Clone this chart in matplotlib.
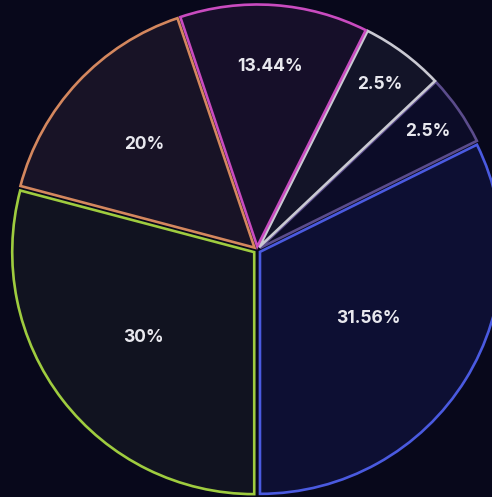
import matplotlib.pyplot as plt
import numpy as np

# slice shares as drawn, counter-clockwise from 6 o'clock
shares = [32.3, 4.75, 5.55, 12.55, 15.75, 29.1]
pct_labels = ['31.56%', '2.5%', '2.5%', '13.44%', '20%', '30%']

edge_colors = ['#4a5ae0', '#5b4c8c', '#c9c9d2', '#c94bc0', '#d4875e', '#9fcc3f']
face_colors = ['#0d0f33', '#0c0c28', '#131428', '#160f29', '#181326', '#111320']
label_dist = [0.54, 0.86, 0.85, 0.76, 0.64, 0.59]

bg = '#08081b'

fig = plt.figure(figsize=(4.92, 4.97), dpi=100, facecolor=bg)
ax = fig.add_axes([0, 0, 1, 1])
ax.set_facecolor(bg)

cx, cy, r = 257, 247, 242
# explode is in data units here (1 unit = 1 px)
wedges, _ = ax.pie(shares, startangle=-90, counterclock=True,
                   colors=face_colors, radius=r, center=(cx, cy),
                   explode=[3.5] * len(shares),
                   wedgeprops=dict(linewidth=1.9, joinstyle='miter'))
for w, ec in zip(wedges, edge_colors):
    w.set_edgecolor(ec)

for w, lab, d in zip(wedges, pct_labels, label_dist):
    mid = np.deg2rad((w.theta1 + w.theta2) / 2)
    ax.text(cx + d * r * np.cos(mid), cy + d * r * np.sin(mid), lab,
            ha='center', va='center', color='#e8e8ee', fontsize=12.5,
            fontweight='bold', family=['Inter', 'DejaVu Sans'])

ax.set_xlim(0, 492)
ax.set_ylim(0, 497)
ax.set_aspect('equal')
ax.axis('off')

fig.savefig('out.png', dpi=100, facecolor=bg)
